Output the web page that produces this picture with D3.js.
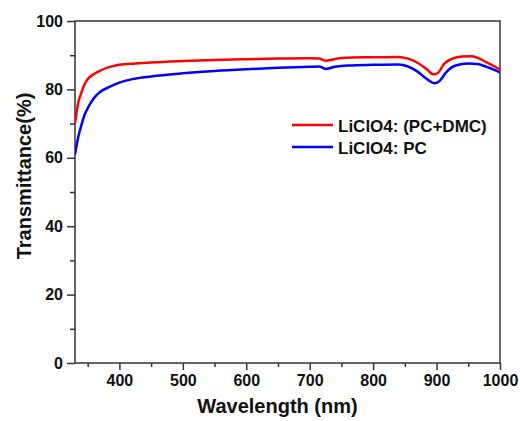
<!DOCTYPE html>
<html><head><meta charset="utf-8">
<script src="https://cdn.jsdelivr.net/npm/d3@7"></script>
<style>body{margin:0;background:#fff}svg{display:block}text{font-family:"Liberation Sans",Arial,sans-serif;font-weight:bold;fill:#111}</style>
</head><body><svg id="c" width="520" height="421"></svg>
<script>
const seriesNames = ["LiClO4: (PC+DMC)", "LiClO4: PC"];
const seriesColors = ["#ff0000", "#0000ff"];
const wlRed = [330,335,340,345,350,360,370,380,390,400,425,450,500,550,600,650,700,715,725,735,750,800,840,855,870,885,895,902,912,925,940,955,965,980,1000];
const tRed  = [70,76,79,81.5,83,84.5,85.5,86.3,86.8,87.2,87.6,87.9,88.3,88.6,88.8,89.0,89.1,89.0,88.4,88.7,89.2,89.4,89.5,89.0,87.8,85.8,84.4,84.8,87.5,89.0,89.6,89.7,89.2,87.8,85.8];
const wlBlue = [330,335,340,345,350,360,370,385,400,420,450,500,550,600,650,700,715,725,740,760,800,840,855,870,885,897,905,915,930,950,965,980,1000];
const tBlue  = [61,66,69.5,72.5,74.5,77.5,79.3,80.8,82,83,83.8,84.7,85.4,85.9,86.3,86.6,86.7,86.0,86.6,87.0,87.2,87.3,86.7,85.2,83.0,81.8,82.5,85.0,87.0,87.6,87.4,86.5,85.0];
const xTicks = [400,500,600,700,800,900,1000];
const xMinor = [350,450,550,650,750,850,950];
const yTicks = [0,20,40,60,80,100];
const yMinor = [10,30,50,70,90];

const svg = d3.select("#c");
const L=75,R=500,T=21,B=363;
const x = d3.scaleLinear().domain([330,1000]).range([L,R]);
const y = d3.scaleLinear().domain([0,100]).range([B,T]);
const ax="#333";

// frame
svg.append("rect").attr("x",L).attr("y",T).attr("width",R-L).attr("height",B-T).attr("fill","none").attr("stroke",ax).attr("stroke-width",1.5);

const gx = svg.append("g").attr("transform",`translate(0,${B})`);
gx.call(d3.axisBottom(x).tickValues(xTicks).tickSize(7).tickPadding(5).tickFormat(d3.format("d")));
gx.append("g").call(d3.axisBottom(x).tickValues(xMinor).tickSize(4).tickFormat(""));
gx.selectAll(".domain").remove();
gx.selectAll("line").attr("stroke",ax).attr("stroke-width",1.5);
gx.selectAll("text").attr("font-size",16).attr("fill","#111").attr("font-family","Liberation Sans, Arial, sans-serif").attr("font-weight","bold");

const gy = svg.append("g").attr("transform",`translate(${L},0)`);
gy.call(d3.axisLeft(y).tickValues(yTicks).tickSize(8).tickPadding(4).tickFormat(d3.format("d")));
gy.append("g").call(d3.axisLeft(y).tickValues(yMinor).tickSize(5).tickFormat(""));
gy.selectAll(".domain").remove();
gy.selectAll("line").attr("stroke",ax).attr("stroke-width",1.5);
gy.selectAll("text").attr("font-size",16).attr("fill","#111").attr("font-family","Liberation Sans, Arial, sans-serif").attr("font-weight","bold");

const line = d3.line().x(d=>x(d[0])).y(d=>y(d[1])).curve(d3.curveMonotoneX);
const data = [d3.zip(wlRed,tRed), d3.zip(wlBlue,tBlue)];
svg.append("defs").append("clipPath").attr("id","clip").append("rect").attr("x",L).attr("y",T).attr("width",R-L).attr("height",B-T);
[1,0].forEach(i=>{
  svg.append("path").attr("d",line(data[i])).attr("fill","none").attr("stroke",seriesColors[i]).attr("stroke-width",2.5).attr("clip-path","url(#clip)");
});

// legend
const lg = svg.append("g");
seriesNames.forEach((n,i)=>{
  const yy = 125 + i*22;
  lg.append("line").attr("x1",292).attr("x2",333).attr("y1",yy).attr("y2",yy).attr("stroke",seriesColors[i]).attr("stroke-width",2.5);
  lg.append("text").attr("x",338).attr("y",yy+6.5).attr("font-size",17).text(n);
});

svg.append("text").attr("x",(L+R)/2-10).attr("y",413).attr("text-anchor","middle").attr("font-size",20).text("Wavelength (nm)");
svg.append("text").attr("transform","translate(31,176) rotate(-90)").attr("text-anchor","middle").attr("font-size",20).text("Transmittance(%)");
</script></body></html>
